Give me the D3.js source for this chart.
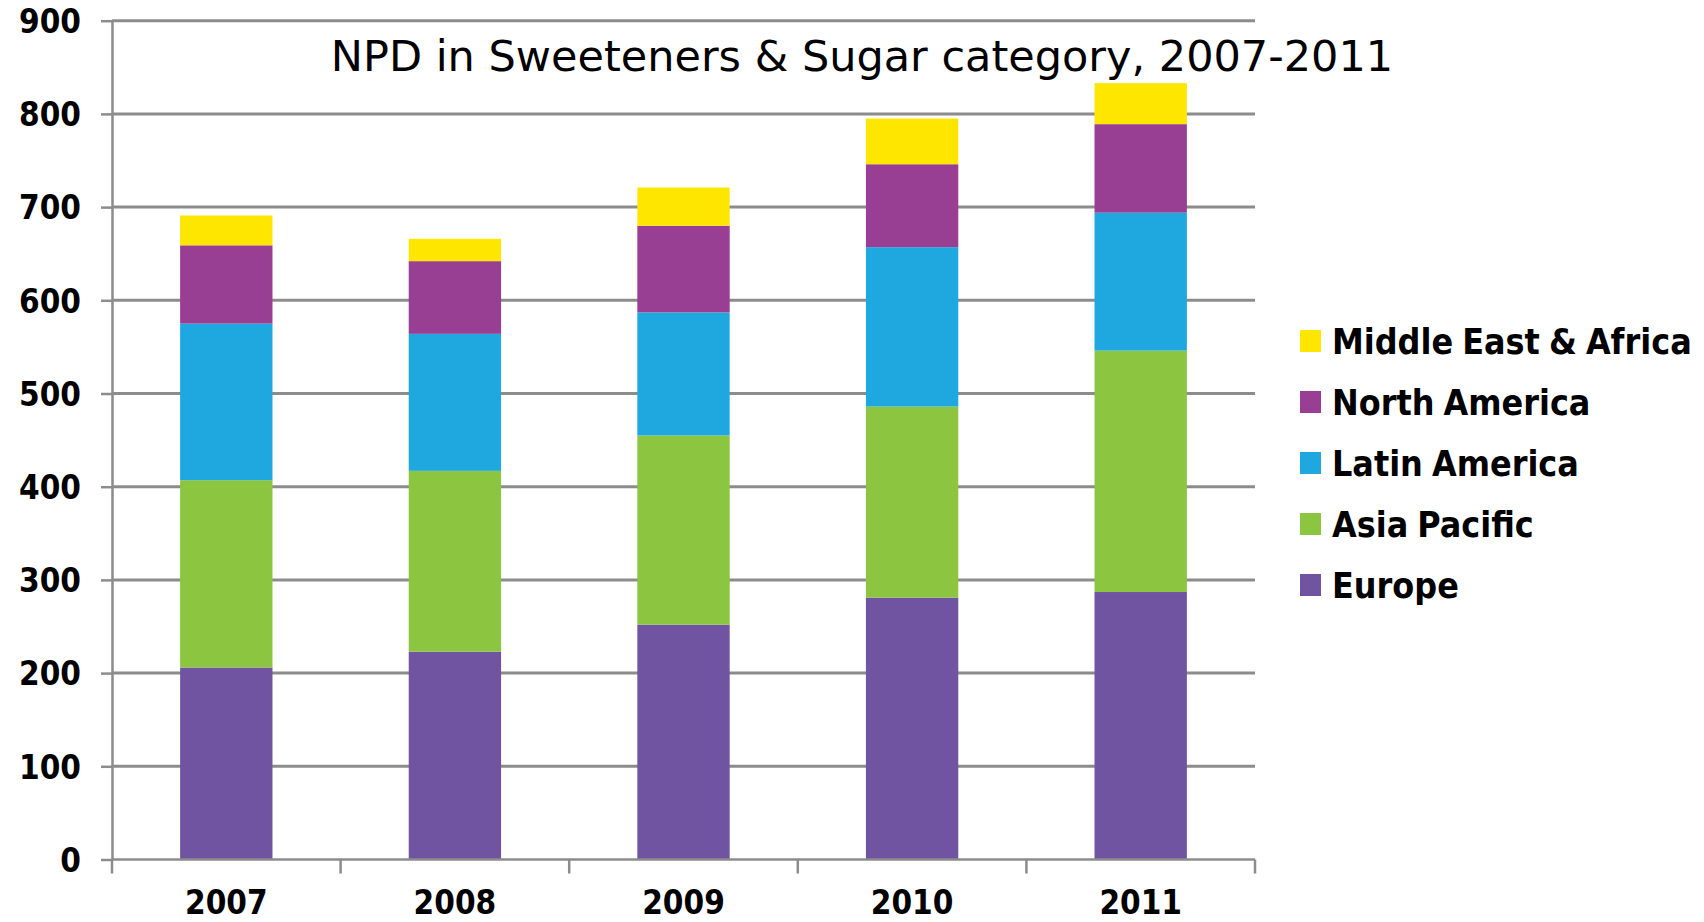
<!DOCTYPE html>
<html lang="en">

<head>
    <meta charset="UTF-8">
    <title>NPD in Sweeteners & Sugar category, 2007-2011</title>
    <script src="https://d3js.org/d3.v7.min.js"></script>
    <style>
        body {
            margin: 0;
            background: #fff;
        }

        svg {
            display: block;
        }

        .grid line {
            stroke: #8c8c8c;
            stroke-width: 3px;
        }

        .axis path,
        .axis line {
            stroke: #8c8c8c;
            stroke-width: 2.5px;
        }

        .axis text {
            font-family: "DejaVu Sans Condensed", "DejaVu Sans", sans-serif;
            font-weight: bold;
            font-size: 33px;
            fill: #000;
        }

        .legend text {
            font-family: "DejaVu Sans Condensed", "DejaVu Sans", sans-serif;
            font-weight: bold;
            font-size: 35.5px;
            word-spacing: -2px;
            fill: #000;
        }

        .title {
            font-family: "DejaVu Sans", sans-serif;
            font-size: 43px;
            fill: #000;
        }
    </style>
</head>

<body>
    <svg width="1704" height="922"></svg>
    <script>
        // data
        const years = ["2007", "2008", "2009", "2010", "2011"];
        const regions = ["Europe", "Asia Pacific", "Latin America", "North America", "Middle East & Africa"];
        const europe = [206, 223, 252, 281, 287];
        const asiaPacific = [201, 194, 203, 205, 259];
        const latinAmerica = [168, 147, 132, 171, 148];
        const northAmerica = [84, 78, 93, 89, 95];
        const middleEastAfrica = [32, 24, 41, 49, 44];
        const yTicks = [0, 100, 200, 300, 400, 500, 600, 700, 800, 900];
        const colors = ["#7054a2", "#8cc540", "#1fa8e0", "#983e93", "#ffe600"];

        const svg = d3.select("svg");
        const plotLeft = 112, plotRight = 1255, plotTop = 20.7, plotBottom = 859.5;

        const rows = years.map((yr, i) => ({
            year: yr,
            "Europe": europe[i],
            "Asia Pacific": asiaPacific[i],
            "Latin America": latinAmerica[i],
            "North America": northAmerica[i],
            "Middle East & Africa": middleEastAfrica[i]
        }));

        const x = d3.scaleBand()
            .domain(years)
            .range([plotLeft, plotRight])
            .paddingInner(0.596)
            .paddingOuter(0.298);

        const y = d3.scaleLinear()
            .domain([0, 900])
            .range([plotBottom, plotTop]);

        const color = d3.scaleOrdinal().domain(regions).range(colors);

        // gridlines
        svg.append("g")
            .attr("class", "grid")
            .selectAll("line")
            .data(yTicks.filter(d => d > 0))
            .enter()
            .append("line")
            .attr("x1", plotLeft)
            .attr("x2", plotRight)
            .attr("y1", d => y(d))
            .attr("y2", d => y(d));

        // stacked bars
        const series = d3.stack().keys(regions)(rows);
        svg.append("g")
            .selectAll("g")
            .data(series)
            .enter()
            .append("g")
            .attr("fill", d => color(d.key))
            .selectAll("rect")
            .data(d => d)
            .enter()
            .append("rect")
            .attr("x", d => x(d.data.year))
            .attr("width", x.bandwidth())
            .attr("y", d => y(d[1]))
            .attr("height", d => y(d[0]) - y(d[1]));

        // y axis
        const yAxis = svg.append("g")
            .attr("class", "axis")
            .attr("transform", `translate(${plotLeft},0)`)
            .call(d3.axisLeft(y).tickValues(yTicks).tickSize(11).tickPadding(20).tickSizeOuter(0));
        yAxis.selectAll("text").attr("dy", "0.36em");

        // x axis: ticks sit on band edges, labels at band centres
        const xAxis = svg.append("g")
            .attr("class", "axis")
            .attr("transform", `translate(0,${plotBottom})`);
        xAxis.append("line")
            .attr("x1", plotLeft).attr("x2", plotRight)
            .attr("y1", 0).attr("y2", 0);
        const edges = years.map(d => x(d) - x.step() * x.paddingInner() / 2).concat([plotRight]);
        xAxis.selectAll(".edge")
            .data(edges)
            .enter()
            .append("line")
            .attr("class", "edge")
            .attr("x1", d => d).attr("x2", d => d)
            .attr("y1", 0).attr("y2", 14);
        xAxis.selectAll(".lbl")
            .data(years)
            .enter()
            .append("text")
            .attr("class", "lbl")
            .attr("x", d => x(d) + x.bandwidth() / 2)
            .attr("y", 54)
            .attr("text-anchor", "middle")
            .text(d => d);

        // title
        svg.append("text")
            .attr("class", "title")
            .attr("x", 862)
            .attr("y", 71)
            .attr("text-anchor", "middle")
            .text("NPD in Sweeteners & Sugar category, 2007-2011");

        // legend (top to bottom = reverse stack order)
        const legend = svg.append("g")
            .attr("class", "legend")
            .selectAll("g")
            .data(regions.slice().reverse())
            .enter()
            .append("g")
            .attr("transform", (d, i) => `translate(1300, ${341 + i * 61})`);
        legend.append("rect")
            .attr("x", 0)
            .attr("y", -11)
            .attr("width", 21)
            .attr("height", 22)
            .attr("fill", d => color(d));
        legend.append("text")
            .attr("x", 32)
            .attr("y", 13)
            .text(d => d);
    </script>
</body>

</html>
